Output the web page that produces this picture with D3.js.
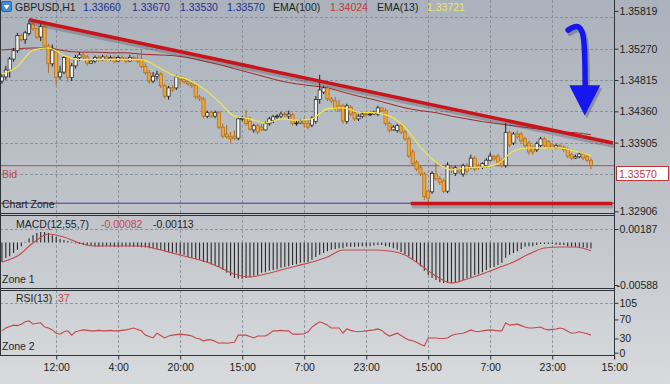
<!DOCTYPE html>
<html>
<head>
<meta charset="utf-8">
<script src="https://cdn.jsdelivr.net/npm/d3@7"></script>
<style>
  html, body { margin: 0; padding: 0; background: #cfd2d6; }
  svg { display: block; font-family: "Liberation Sans", Arial, sans-serif; font-size: 10.5px; }
</style>
</head>
<body>
<svg id="chart" width="670" height="384"></svg>
<script>
'use strict';

// ---- data ----
var timeLabels = ["12:00", "4:00", "20:00", "15:00", "7:00", "23:00", "15:00", "7:00", "23:00", "15:00"];
var tickBars = [14, 30, 46, 62, 78, 94, 110, 126, 142, 158];

var opens = [
  1.3480, 1.3486, 1.3496, 1.3512, 1.3524, 1.3546, 1.3540, 1.3549, 1.3563, 1.3556,
  1.3544, 1.3559, 1.3531, 1.3505, 1.3522, 1.3486, 1.3493, 1.3514, 1.3485, 1.3502,
  1.3514, 1.3518, 1.3515, 1.3506, 1.3509, 1.3514, 1.3511, 1.3515, 1.3512, 1.3514,
  1.3509, 1.3514, 1.3512, 1.3509, 1.3514, 1.3512, 1.3512, 1.3501, 1.3492, 1.3480,
  1.3487, 1.3490, 1.3473, 1.3458, 1.3470, 1.3470, 1.3486, 1.3482, 1.3479, 1.3476,
  1.3474, 1.3457, 1.3454, 1.3429, 1.3434, 1.3429, 1.3434, 1.3413, 1.3403, 1.3399,
  1.3400, 1.3397, 1.3425, 1.3426, 1.3421, 1.3409, 1.3415, 1.3413, 1.3409, 1.3418,
  1.3423, 1.3428, 1.3429, 1.3432, 1.3429, 1.3431, 1.3418, 1.3419, 1.3422, 1.3418,
  1.3416, 1.3421, 1.3453, 1.3464, 1.3470, 1.3454, 1.3451, 1.3444, 1.3444, 1.3421,
  1.3442, 1.3434, 1.3425, 1.3429, 1.3432, 1.3431, 1.3432, 1.3432, 1.3441, 1.3437,
  1.3418, 1.3409, 1.3408, 1.3415, 1.3406, 1.3396, 1.3377, 1.3362, 1.3354, 1.3345,
  1.3320, 1.3319, 1.3345, 1.3338, 1.3335, 1.3320, 1.3355, 1.3346, 1.3351, 1.3345,
  1.3357, 1.3355, 1.3368, 1.3357, 1.3355, 1.3357, 1.3365, 1.3370, 1.3371, 1.3364,
  1.3357, 1.3405, 1.3390, 1.3403, 1.3403, 1.3396, 1.3390, 1.3384, 1.3380, 1.3386,
  1.3396, 1.3392, 1.3387, 1.3383, 1.3386, 1.3384, 1.3381, 1.3373, 1.3368, 1.3370,
  1.3374, 1.3370, 1.3365
];
var highs = [
  1.3490, 1.3502, 1.3515, 1.3528, 1.3550, 1.3549, 1.3553, 1.3569, 1.3566, 1.3557,
  1.3563, 1.3562, 1.3534, 1.3533, 1.3525, 1.3502, 1.3517, 1.3515, 1.3506, 1.3518,
  1.3522, 1.3521, 1.3518, 1.3512, 1.3517, 1.3517, 1.3518, 1.3518, 1.3517, 1.3517,
  1.3517, 1.3517, 1.3515, 1.3518, 1.3517, 1.3518, 1.3525, 1.3506, 1.3496, 1.3493,
  1.3495, 1.3493, 1.3476, 1.3473, 1.3474, 1.3489, 1.3487, 1.3486, 1.3483, 1.3479,
  1.3477, 1.3460, 1.3457, 1.3437, 1.3437, 1.3437, 1.3437, 1.3418, 1.3416, 1.3406,
  1.3408, 1.3428, 1.3429, 1.3438, 1.3428, 1.3418, 1.3418, 1.3418, 1.3421, 1.3428,
  1.3431, 1.3432, 1.3435, 1.3435, 1.3437, 1.3434, 1.3422, 1.3425, 1.3426, 1.3425,
  1.3429, 1.3458, 1.3489, 1.3473, 1.3473, 1.3457, 1.3457, 1.3453, 1.3447, 1.3447,
  1.3445, 1.3437, 1.3432, 1.3435, 1.3435, 1.3435, 1.3437, 1.3444, 1.3442, 1.3440,
  1.3421, 1.3416, 1.3418, 1.3418, 1.3409, 1.3399, 1.3381, 1.3365, 1.3357, 1.3348,
  1.3323, 1.3349, 1.3362, 1.3342, 1.3339, 1.3362, 1.3358, 1.3357, 1.3354, 1.3360,
  1.3361, 1.3373, 1.3371, 1.3360, 1.3362, 1.3368, 1.3376, 1.3373, 1.3374, 1.3368,
  1.3419, 1.3408, 1.3406, 1.3408, 1.3406, 1.3399, 1.3393, 1.3387, 1.3392, 1.3399,
  1.3399, 1.3394, 1.3390, 1.3389, 1.3389, 1.3387, 1.3384, 1.3376, 1.3373, 1.3377,
  1.3376, 1.3373, 1.3368
];
var lows = [
  1.3476, 1.3482, 1.3485, 1.3508, 1.3521, 1.3537, 1.3534, 1.3546, 1.3553, 1.3541,
  1.3538, 1.3528, 1.3492, 1.3501, 1.3474, 1.3482, 1.3490, 1.3479, 1.3480, 1.3498,
  1.3509, 1.3511, 1.3502, 1.3505, 1.3506, 1.3508, 1.3509, 1.3509, 1.3509, 1.3506,
  1.3508, 1.3509, 1.3506, 1.3508, 1.3509, 1.3506, 1.3499, 1.3489, 1.3476, 1.3477,
  1.3482, 1.3470, 1.3455, 1.3453, 1.3464, 1.3467, 1.3474, 1.3476, 1.3473, 1.3470,
  1.3454, 1.3451, 1.3426, 1.3426, 1.3426, 1.3426, 1.3410, 1.3397, 1.3396, 1.3390,
  1.3394, 1.3394, 1.3422, 1.3415, 1.3408, 1.3405, 1.3403, 1.3408, 1.3408, 1.3415,
  1.3419, 1.3425, 1.3426, 1.3428, 1.3425, 1.3415, 1.3415, 1.3418, 1.3413, 1.3410,
  1.3413, 1.3418, 1.3447, 1.3461, 1.3451, 1.3448, 1.3437, 1.3435, 1.3418, 1.3418,
  1.3429, 1.3422, 1.3422, 1.3426, 1.3429, 1.3429, 1.3431, 1.3429, 1.3435, 1.3415,
  1.3405, 1.3408, 1.3405, 1.3403, 1.3393, 1.3368, 1.3357, 1.3349, 1.3342, 1.3307,
  1.3303, 1.3316, 1.3335, 1.3329, 1.3317, 1.3317, 1.3346, 1.3342, 1.3345, 1.3341,
  1.3346, 1.3352, 1.3349, 1.3351, 1.3352, 1.3354, 1.3364, 1.3364, 1.3360, 1.3354,
  1.3354, 1.3384, 1.3387, 1.3396, 1.3390, 1.3383, 1.3373, 1.3373, 1.3377, 1.3383,
  1.3383, 1.3381, 1.3381, 1.3381, 1.3381, 1.3377, 1.3368, 1.3365, 1.3367, 1.3368,
  1.3365, 1.3362, 1.3352
];
var closes = [
  1.3486, 1.3496, 1.3512, 1.3524, 1.3546, 1.3540, 1.3550, 1.3563, 1.3556, 1.3544,
  1.3559, 1.3531, 1.3505, 1.3525, 1.3485, 1.3493, 1.3514, 1.3485, 1.3502, 1.3514,
  1.3518, 1.3515, 1.3506, 1.3509, 1.3514, 1.3511, 1.3515, 1.3512, 1.3514, 1.3509,
  1.3514, 1.3512, 1.3509, 1.3514, 1.3512, 1.3509, 1.3501, 1.3492, 1.3480, 1.3487,
  1.3490, 1.3473, 1.3458, 1.3470, 1.3467, 1.3486, 1.3482, 1.3479, 1.3476, 1.3473,
  1.3457, 1.3454, 1.3429, 1.3434, 1.3429, 1.3434, 1.3413, 1.3400, 1.3399, 1.3396,
  1.3397, 1.3425, 1.3426, 1.3418, 1.3410, 1.3415, 1.3406, 1.3409, 1.3418, 1.3425,
  1.3428, 1.3429, 1.3432, 1.3431, 1.3432, 1.3418, 1.3419, 1.3422, 1.3418, 1.3413,
  1.3426, 1.3453, 1.3467, 1.3470, 1.3454, 1.3451, 1.3441, 1.3438, 1.3422, 1.3444,
  1.3432, 1.3425, 1.3429, 1.3432, 1.3431, 1.3432, 1.3434, 1.3441, 1.3437, 1.3418,
  1.3408, 1.3413, 1.3415, 1.3406, 1.3396, 1.3371, 1.3360, 1.3352, 1.3345, 1.3312,
  1.3310, 1.3346, 1.3338, 1.3333, 1.3320, 1.3358, 1.3351, 1.3354, 1.3348, 1.3357,
  1.3349, 1.3368, 1.3352, 1.3354, 1.3360, 1.3365, 1.3371, 1.3367, 1.3362, 1.3357,
  1.3405, 1.3387, 1.3403, 1.3399, 1.3393, 1.3386, 1.3377, 1.3377, 1.3389, 1.3396,
  1.3386, 1.3384, 1.3384, 1.3386, 1.3384, 1.3380, 1.3371, 1.3368, 1.3370, 1.3374,
  1.3368, 1.3365, 1.3357
];

// moving averages and MACD signal, read every fourth bar
var lineBars = [0, 4, 8, 12, 16, 20, 24, 28, 32, 36, 40, 44, 48, 52, 56, 60, 64, 68, 72, 76,
  80, 84, 88, 92, 96, 100, 104, 108, 112, 116, 120, 124, 128, 132, 136, 140, 144, 148, 152];
var ema13 = [
  1.3490, 1.3501, 1.3525, 1.3528, 1.3517, 1.3511, 1.3511, 1.3511, 1.3511, 1.3511,
  1.3501, 1.3489, 1.3482, 1.3469, 1.3450, 1.3429, 1.3425, 1.3419, 1.3425, 1.3423,
  1.3425, 1.3440, 1.3441, 1.3435, 1.3434, 1.3429, 1.3413, 1.3384, 1.3362, 1.3351,
  1.3354, 1.3355, 1.3360, 1.3378, 1.3383, 1.3383, 1.3383, 1.3378, 1.3372
];
var ema100 = [
  1.3525, 1.3527, 1.3528, 1.3528, 1.3524, 1.3522, 1.3522, 1.3521, 1.3521, 1.3519,
  1.3518, 1.3517, 1.3514, 1.3509, 1.3504, 1.3498, 1.3492, 1.3486, 1.3480, 1.3476,
  1.3473, 1.3470, 1.3464, 1.3458, 1.3453, 1.3447, 1.3441, 1.3437, 1.3434, 1.3429,
  1.3425, 1.3421, 1.3418, 1.3415, 1.3412, 1.3409, 1.3406, 1.3405, 1.3402
];
var macdSignal = [
  -0.0027, -0.00187, -0.00007, 0.00118, 0.00076, -0.00007, -0.00048, -0.00048, -0.00048, -0.00048,
  -0.0009, -0.00145, -0.002, -0.00256, -0.00339, -0.00436, -0.00478, -0.00436, -0.00381, -0.00325,
  -0.0027, -0.002, -0.00104, -0.00104, -0.00104, -0.00118, -0.00173, -0.00311, -0.00464, -0.00561,
  -0.00505, -0.00436, -0.00353, -0.0027, -0.00159, -0.00076, -0.00062, -0.00062, -0.00113
];
var macdMain = [
  -0.0027, -0.00215, -0.0019, -0.00145, -0.001, -0.0005, 0.0001, 0.0006, 0.001, 0.0013,
  0.00145, 0.00145, 0.0013, 0.001, 0.00075, 0.0005, 0.00035, 0.0002, 0.0001, -0.0001,
  -0.0002, -0.00035, -0.0004, -0.0005, -0.00055, -0.0006, -0.00055, -0.0005, -0.00055, -0.0006,
  -0.0006, -0.00055, -0.0005, -0.00055, -0.0006, -0.0006, -0.00065, -0.0007, -0.0008, -0.0008,
  -0.0009, -0.00105, -0.0012, -0.0013, -0.00145, -0.0014, -0.0016, -0.0017, -0.002, -0.0021,
  -0.0023, -0.0024, -0.0027, -0.0028, -0.003, -0.0031, -0.0034, -0.0038, -0.0042, -0.0046,
  -0.0049, -0.005, -0.005, -0.0049, -0.0048, -0.0046, -0.0045, -0.0042, -0.0041, -0.0039,
  -0.0038, -0.0037, -0.0035, -0.0034, -0.0033, -0.0031, -0.003, -0.0028, -0.0027, -0.0027,
  -0.0024, -0.002, -0.0017, -0.00145, -0.0012, -0.001, -0.0009, -0.0008, -0.0008, -0.0006,
  -0.0006, -0.0006, -0.00055, -0.0005, -0.0005, -0.0005, -0.0004, -0.00035, -0.00035, -0.0005,
  -0.0006, -0.0008, -0.001, -0.0013, -0.0016, -0.0019, -0.0023, -0.0027, -0.0033, -0.0039,
  -0.0045, -0.0049, -0.0052, -0.0055, -0.0056, -0.0056, -0.0056, -0.0055, -0.0053, -0.0052,
  -0.0049, -0.0048, -0.0045, -0.0044, -0.0041, -0.0038, -0.0035, -0.0034, -0.0031, -0.0028,
  -0.0021, -0.0017, -0.00145, -0.0012, -0.0009, -0.0006, -0.0005, -0.0005, -0.00035, -0.0002,
  -0.0002, -0.0002, -0.0002, -0.0003, -0.00035, -0.00035, -0.0005, -0.00055, -0.0006, -0.0006,
  -0.0007, -0.00075, -0.00082
];
var rsi = [
  46, 52, 55, 58, 57, 60, 65, 67, 60, 62, 63, 54, 52, 48, 41, 39, 44, 46, 37, 44,
  46, 48, 47, 46, 46, 47, 46, 46, 47, 46, 46, 47, 48, 50, 52, 49, 46, 37, 34, 31,
  41, 36, 31, 35, 37, 38, 39, 38, 37, 35, 31, 29, 25, 27, 27, 24, 20, 21, 20, 21,
  22, 37, 37, 37, 34, 31, 35, 35, 35, 40, 46, 46, 47, 46, 46, 39, 39, 39, 40, 44,
  54, 60, 65, 62, 58, 52, 52, 52, 41, 50, 47, 45, 44, 45, 46, 47, 48, 50, 47, 40,
  35, 38, 41, 36, 31, 27, 25, 22, 18, 14, 31, 31, 31, 30, 30, 31, 36, 39, 40, 41,
  44, 48, 45, 44, 46, 47, 48, 47, 46, 46, 63, 58, 59, 60, 57, 54, 52, 52, 53, 54,
  50, 48, 49, 50, 52, 50, 45, 41, 42, 44, 42, 40, 37
];

// drawn objects: [bar, price]
var resistanceLine = [[7, 1.3569], [157.7, 1.3390]];
var supportLine = [[105.5, 1.3302], [157.5, 1.3302]];
var arrowPath = [[146.1, 1.3554], [148.4, 1.3562], [150.4, 1.3553], [150.5, 1.3474]];
var arrowHead = [[146.4, 1.3474], [154.4, 1.3474], [150.4, 1.3430]];
var bidPrice = 1.3357;
var zonePrice = 1.33025;

var priceTicks = [1.35819, 1.35270, 1.34815, 1.34360, 1.33905, 1.32906];
var priceGrid = [1.35725, 1.35270, 1.34815, 1.34360, 1.33905, 1.33450];
var macdTicks = [0.00187, -0.00588];
var rsiTicks = [105, 70, 30, 0];

// ---- layout ----
var plotRight = 614;
var panes = {
  main: {top: 0, bottom: 213},
  macd: {top: 215, bottom: 288},
  rsi: {top: 290, bottom: 355}
};

var svg = d3.select('#chart');

var defs = svg.append('defs');
var grad = defs.append('linearGradient').attr('id', 'bg').attr('x1', 0).attr('y1', 0).attr('x2', 0).attr('y2', 1);
grad.append('stop').attr('offset', '0%').attr('stop-color', '#abb2bb');
grad.append('stop').attr('offset', '55%').attr('stop-color', '#c0c4ca');
grad.append('stop').attr('offset', '100%').attr('stop-color', '#d8dadd');

Object.keys(panes).forEach(function(k) {
  var p = panes[k];
  defs.append('clipPath').attr('id', 'clip-' + k)
    .append('rect').attr('x', 0).attr('y', p.top).attr('width', plotRight).attr('height', p.bottom - p.top);
});

svg.append('rect').attr('width', 670).attr('height', 384).attr('fill', 'url(#bg)');

// scales
var x = d3.scaleLinear().domain([0, 158]).range([1.95, 614.2]);
var y = d3.scaleLinear().domain([1.32906, 1.35819]).range([211.4, 10.9]);
var yMacd = d3.scaleLinear().domain([-0.00588, 0.00187]).range([285, 229]);
var yRsi = d3.scaleLinear().domain([0, 105]).range([352.7, 302.8]);

// ---- grid ----
var grid = svg.append('g').attr('stroke', '#7c8590').attr('stroke-width', 1)
  .attr('stroke-dasharray', '3,2').attr('opacity', 0.75);
Object.keys(panes).forEach(function(k) {
  var p = panes[k];
  grid.selectAll(null).data(tickBars).enter().append('line')
    .attr('x1', function(d) { return Math.round(x(d)) + 0.5; })
    .attr('x2', function(d) { return Math.round(x(d)) + 0.5; })
    .attr('y1', p.top).attr('y2', p.bottom);
});
grid.selectAll(null).data(priceGrid).enter().append('line')
  .attr('x1', 0).attr('x2', plotRight)
  .attr('y1', function(d) { return Math.round(y(d)) + 0.5; })
  .attr('y2', function(d) { return Math.round(y(d)) + 0.5; });
grid.append('line').attr('x1', 0).attr('x2', plotRight)
  .attr('y1', Math.round(yMacd(0.00187)) + 0.5).attr('y2', Math.round(yMacd(0.00187)) + 0.5);
grid.append('line').attr('x1', 0).attr('x2', plotRight)
  .attr('y1', Math.round(yRsi(105)) + 0.5).attr('y2', Math.round(yRsi(105)) + 0.5);

// ---- main pane ----
var main = svg.append('g').attr('clip-path', 'url(#clip-main)');

// bid + chart zone lines
main.append('line').attr('x1', 0).attr('x2', plotRight)
  .attr('y1', y(bidPrice)).attr('y2', y(bidPrice))
  .attr('stroke', '#c24444').attr('stroke-width', 1);
main.append('line').attr('x1', 0).attr('x2', plotRight)
  .attr('y1', y(zonePrice)).attr('y2', y(zonePrice))
  .attr('stroke', '#5b2b9e').attr('stroke-width', 1);

var maLine = d3.line()
  .x(function(d) { return x(d[0]); })
  .y(function(d) { return y(d[1]); })
  .curve(d3.curveMonotoneX);

main.append('path')
  .attr('d', maLine(lineBars.map(function(b, i) { return [b, ema100[i]]; })))
  .attr('fill', 'none').attr('stroke', '#9e2b2b').attr('stroke-width', 1);

// candles
var bars = opens.map(function(o, i) {
  return {i: i, o: o, h: highs[i], l: lows[i], c: closes[i]};
});
var candle = main.selectAll('g.candle').data(bars).enter().append('g').attr('class', 'candle');
candle.append('line')
  .attr('x1', function(d) { return x(d.i); })
  .attr('x2', function(d) { return x(d.i); })
  .attr('y1', function(d) { return y(d.h); })
  .attr('y2', function(d) { return y(d.l); })
  .attr('stroke', function(d) { return d.c >= d.o ? '#1c1c1c' : '#b56c12'; })
  .attr('stroke-width', 1);
candle.append('rect')
  .attr('x', function(d) { return x(d.i) - 1.6; })
  .attr('y', function(d) { return y(Math.max(d.o, d.c)); })
  .attr('width', 3.2)
  .attr('height', function(d) { return Math.max(0.8, Math.abs(y(d.o) - y(d.c))); })
  .attr('fill', function(d) { return d.c >= d.o ? '#f4f4f2' : '#eca63a'; })
  .attr('stroke', function(d) { return d.c >= d.o ? '#1c1c1c' : '#b56c12'; })
  .attr('stroke-width', 0.7);

main.append('path')
  .attr('d', maLine(lineBars.map(function(b, i) { return [b, ema13[i]]; })))
  .attr('fill', 'none').attr('stroke', '#f1e54a').attr('stroke-width', 1.2);

// trend lines with a soft shadow
var segLine = d3.line()
  .x(function(d) { return x(d[0]); })
  .y(function(d) { return y(d[1]); });
[resistanceLine, supportLine].forEach(function(seg) {
  main.append('path').attr('d', segLine(seg))
    .attr('transform', 'translate(1,3)')
    .attr('stroke', 'rgba(70,70,80,0.3)').attr('stroke-width', 4).attr('fill', 'none');
  main.append('path').attr('d', segLine(seg))
    .attr('stroke', '#c8141a').attr('stroke-width', 3.6).attr('fill', 'none');
});

// blue arrow
var arrowCurve = d3.line()
  .x(function(d) { return x(d[0]); })
  .y(function(d) { return y(d[1]); })
  .curve(d3.curveBasis);
var arrow = main.append('g');
[['translate(2,3)', 'rgba(40,40,70,0.3)'], ['translate(0,0)', '#1616f0']].forEach(function(s) {
  var g = arrow.append('g').attr('transform', s[0]);
  g.append('path').attr('d', arrowCurve(arrowPath))
    .attr('fill', 'none').attr('stroke', s[1]).attr('stroke-width', 5.5).attr('stroke-linecap', 'round');
  g.append('path').attr('d', segLine(arrowHead) + 'Z').attr('fill', s[1]);
});

// ---- MACD pane ----
var macd = svg.append('g').attr('clip-path', 'url(#clip-macd)');
macd.selectAll('line.hist').data(macdMain).enter().append('line')
  .attr('class', 'hist')
  .attr('x1', function(d, i) { return x(i); })
  .attr('x2', function(d, i) { return x(i); })
  .attr('y1', yMacd(0))
  .attr('y2', function(d) { return yMacd(d); })
  .attr('stroke', '#2a2a2a').attr('stroke-width', 1.1);
macd.append('path')
  .datum(lineBars.map(function(b, i) { return [b, macdSignal[i]]; }))
  .attr('d', d3.line()
    .x(function(d) { return x(d[0]); })
    .y(function(d) { return yMacd(d[1]); })
    .curve(d3.curveMonotoneX))
  .attr('fill', 'none').attr('stroke', '#c4484a').attr('stroke-width', 1.1);

// ---- RSI pane ----
var rsiG = svg.append('g').attr('clip-path', 'url(#clip-rsi)');
rsiG.append('path')
  .datum(rsi)
  .attr('d', d3.line()
    .x(function(d, i) { return x(i); })
    .y(function(d) { return yRsi(d); }))
  .attr('fill', 'none').attr('stroke', '#c4484a').attr('stroke-width', 1.1);

// ---- frames ----
var frame = svg.append('g').attr('stroke', '#2e333a').attr('stroke-width', 1);
frame.append('line').attr('x1', 0.5).attr('x2', 0.5).attr('y1', 0).attr('y2', 355.5);
[213.5, 215.5, 288.5, 290.5, 355.5].forEach(function(v) {
  frame.append('line').attr('x1', 0).attr('x2', plotRight).attr('y1', v).attr('y2', v);
});
frame.append('line').attr('x1', plotRight + 0.5).attr('x2', plotRight + 0.5).attr('y1', 0).attr('y2', 359);

// ---- axes ----
function styleAxis(g) {
  g.select('.domain').remove();
  g.selectAll('.tick line').attr('stroke', '#2e333a');
  g.selectAll('.tick text').attr('fill', '#1d1f22').attr('font-size', '10.5px')
    .attr('font-family', '"Liberation Sans", Arial, sans-serif');
}
var fmt5 = function(d) { return d.toFixed(5); };

svg.append('g').attr('transform', 'translate(' + (plotRight + 0.5) + ',0)')
  .call(d3.axisRight(y).tickValues(priceTicks).tickFormat(fmt5).tickSize(4).tickPadding(1))
  .call(styleAxis);
svg.append('g').attr('transform', 'translate(' + (plotRight + 0.5) + ',0)')
  .call(d3.axisRight(yMacd).tickValues(macdTicks).tickFormat(fmt5).tickSize(4).tickPadding(1))
  .call(styleAxis)
  .selectAll('.tick text').attr('dx', function(d) { return d < 0 ? -3 : 0; });
svg.append('g').attr('transform', 'translate(' + (plotRight + 0.5) + ',0)')
  .call(d3.axisRight(yRsi).tickValues(rsiTicks).tickSize(4).tickPadding(1))
  .call(styleAxis);
svg.append('g').attr('transform', 'translate(0,355.5)')
  .call(d3.axisBottom(x).tickValues(tickBars)
    .tickFormat(function(d, i) { return timeLabels[i]; })
    .tickSize(4).tickPadding(4.5))
  .call(styleAxis);

// bid price box
svg.append('rect').attr('x', 616.5).attr('y', 166.5).attr('width', 52).attr('height', 14)
  .attr('fill', '#ffffff').attr('stroke', '#c03838');
svg.append('text').attr('x', 619).attr('y', 177.5).attr('fill', '#c03838').text(bidPrice.toFixed(5));

// ---- labels ----
function label(txt, px, py, color) {
  svg.append('text').attr('x', px).attr('y', py).attr('fill', color || '#1d1f22').text(txt);
}
// header icon
svg.append('rect').attr('x', 1.5).attr('y', 1.5).attr('width', 10).attr('height', 10).attr('rx', 1.5)
  .attr('fill', '#3d8fda').attr('stroke', '#2667a8');
svg.append('path').attr('d', 'M3.5,5 L9.5,5 L6.5,9.5 Z').attr('fill', '#ffffff');

var header = [
  ['GBPUSD,H1', 15, '#1d1f22'],
  ['1.33660', 83, '#1f2f8e'],
  ['1.33670', 132, '#1f2f8e'],
  ['1.33530', 180, '#1f2f8e'],
  ['1.33570', 227, '#1f2f8e'],
  ['EMA(100)', 273, '#1d1f22'],
  ['1.34024', 330, '#c03838'],
  ['EMA(13)', 377, '#1d1f22'],
  ['1.33721', 427, '#ece46a']
];
header.forEach(function(h) { label(h[0], h[1], 11, h[2]); });

label('Bid', 2, 178, '#c04848');
label('Chart Zone', 2, 208);
label('MACD(12,55,7)', 16, 228);
label('-0.00082', 101, 228, '#c04848');
label('-0.00113', 153, 228);
label('Zone 1', 2, 283);
label('RSI(13)', 16, 302);
label('37', 58, 302, '#c04848');
label('Zone 2', 2, 350);
</script>
</body>
</html>
